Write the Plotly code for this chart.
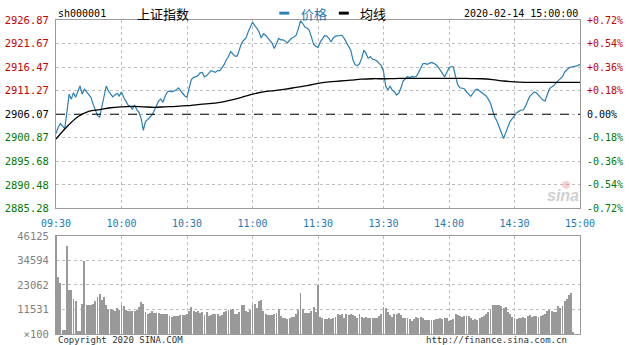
import plotly.graph_objects as go

# ---------------- data ----------------
symbol = "sh000001"
name = "上证指数"
stamp = "2020-02-14 15:00:00"
prev_close = 2906.07

price_ticks = [2885.28, 2890.48, 2895.68, 2900.87, 2906.07, 2911.27, 2916.47, 2921.67, 2926.87]
left_labels = ["2885.28", "2890.48", "2895.68", "2900.87", "2906.07", "2911.27", "2916.47", "2921.67", "2926.87"]
pct_labels = ["-0.72%", "-0.54%", "-0.36%", "-0.18%", "0.00%", "+0.18%", "+0.36%", "+0.54%", "+0.72%"]
vol_ticks = [0, 11531, 23062, 34594, 46125]
vol_labels = ["×100", "11531", "23062", "34594", "46125"]
time_ticks = ["09:30", "10:00", "10:30", "11:00", "11:30", "13:30", "14:00", "14:30", "15:00"]

# one value per minute: 09:30-11:30, 13:01-15:00
price = [
    2901.8, 2903.2, 2904.0, 2903.4, 2902.9, 2906.5, 2910.5, 2909.4, 2910.8, 2909.8,
    2911.2, 2912.3, 2910.5, 2911.6, 2911.0, 2910.5, 2909.8, 2908.3, 2906.9, 2905.8,
    2905.4, 2907.9, 2910.5, 2912.3, 2911.2, 2910.5, 2909.9, 2910.3, 2910.7, 2910.1,
    2911.0, 2909.8, 2908.8, 2908.1, 2907.8, 2907.2, 2908.1, 2907.1, 2906.5, 2905.1,
    2902.5, 2904.5, 2904.9, 2905.4, 2905.9, 2906.9, 2908.1, 2909.0, 2909.4, 2908.7,
    2910.1, 2911.0, 2911.2, 2911.0, 2911.2, 2911.4, 2911.9, 2911.2, 2910.7, 2910.1,
    2909.8, 2911.9, 2913.7, 2914.2, 2914.3, 2914.6, 2915.2, 2915.3, 2914.3, 2914.6,
    2915.2, 2915.7, 2915.5, 2915.3, 2915.7, 2915.7, 2916.3, 2917.0, 2918.1, 2918.8,
    2919.9, 2919.5, 2918.9, 2918.9, 2920.2, 2921.8, 2922.4, 2922.9, 2924.2, 2925.3,
    2926.4, 2925.6, 2925.1, 2924.2, 2922.9, 2923.8, 2923.5, 2922.9, 2922.2, 2921.7,
    2920.6, 2921.7, 2922.8, 2922.5, 2922.5, 2922.2, 2921.8, 2922.4, 2922.9, 2923.1,
    2923.5, 2924.9, 2926.7, 2926.1, 2925.3, 2925.1, 2924.6, 2923.1, 2921.5, 2921.1,
    2920.8,
    2922.0, 2922.8, 2923.4, 2923.3, 2922.8, 2922.0, 2922.9, 2923.3, 2923.4, 2923.4,
    2923.5, 2922.8, 2922.0, 2921.1, 2920.2, 2918.1, 2917.0, 2916.8, 2917.2, 2918.4,
    2920.2, 2919.5, 2918.4, 2918.8, 2918.2, 2918.1, 2917.8, 2917.3, 2916.8, 2915.5,
    2912.3, 2911.4, 2912.3, 2911.4, 2911.0, 2910.3, 2910.7, 2911.9, 2913.4, 2913.9,
    2914.4, 2914.1, 2914.4, 2914.3, 2914.4, 2915.2, 2916.3, 2917.2, 2917.3, 2917.1,
    2917.3, 2917.5, 2917.3, 2917.0, 2916.5, 2915.7, 2915.2, 2914.3, 2915.3, 2916.3,
    2916.6, 2916.5, 2914.4, 2912.6, 2911.9, 2911.8, 2911.7, 2911.0, 2910.5, 2910.0,
    2910.7, 2911.4, 2911.6, 2911.2, 2910.8, 2910.5, 2910.1, 2909.4, 2908.5, 2906.9,
    2905.4, 2904.5, 2903.3, 2902.2, 2900.7, 2902.0, 2903.3, 2904.5, 2905.1, 2905.8,
    2906.4, 2906.7, 2907.0, 2907.0, 2907.8, 2909.0, 2910.0, 2910.5, 2911.0, 2910.8,
    2910.3, 2909.8, 2909.2, 2909.0, 2910.3, 2911.7, 2912.1, 2912.4, 2913.0, 2913.4,
    2913.9, 2914.4, 2915.4, 2915.9, 2916.3, 2916.5, 2916.6, 2916.6, 2916.8, 2917.1,
]

avg_times = [
    "09:30", "09:35", "09:40", "09:45", "09:50", "09:55", "10:00", "10:05", "10:10", "10:15",
    "10:20", "10:25", "10:30", "10:35", "10:40", "10:45", "10:50", "10:55", "11:00", "11:05",
    "11:10", "11:15", "11:20", "11:25", "11:30",
    "13:05", "13:10", "13:15", "13:20", "13:25", "13:30", "13:35", "13:40", "13:45", "13:50",
    "13:55", "14:00", "14:05", "14:10", "14:15", "14:20", "14:25", "14:30", "14:35", "14:40",
    "14:45", "14:50", "14:55", "15:00",
]
avg_values = [
    2900.6, 2903.3, 2905.5, 2906.7, 2907.1, 2907.5, 2907.7, 2907.8, 2907.7, 2907.6,
    2907.7, 2907.8, 2907.95, 2908.2, 2908.4, 2908.7, 2909.2, 2909.8, 2910.5, 2911.0,
    2911.3, 2911.6, 2912.0, 2912.4, 2912.9,
    2913.2, 2913.4, 2913.6, 2913.8, 2913.9, 2913.9, 2913.95, 2914.0, 2914.0, 2914.0,
    2914.0, 2914.0, 2914.0, 2913.95, 2913.9, 2913.7, 2913.4, 2913.2, 2913.1, 2913.1,
    2913.1, 2913.1, 2913.1, 2913.1,
]

volume = [
    46125, 26900, 23800, 1850, 1850, 41200, 20750, 20750, 16600, 15700,
    1540, 1540, 14150, 34590, 13840, 13840, 13530, 14150, 15380, 17680,
    18760, 16140, 17680, 13840, 11990, 11990, 11530, 11070, 12300, 11530,
    13840, 13070, 11530, 11070, 11070, 11070, 11070, 11530, 12610, 15070,
    14150, 10460, 9530, 9990, 10760, 9990, 9990, 9990, 9230, 9230,
    9530, 9530, 8460, 8000, 8460, 8460, 8460, 8920, 8920, 8920,
    9230, 10760, 12610, 11070, 10460, 10760, 9990, 10460, 8920, 10460,
    8460, 8920, 9230, 9530, 9230, 8460, 8920, 10460, 11070, 11530,
    11530, 11990, 9530, 9230, 10460, 13840, 13840, 11070, 10460, 11530,
    13840, 14150, 12300, 15680, 16140, 11070, 9230, 8920, 8920, 8920,
    9230, 9990, 11990, 8460, 7690, 7380, 6920, 7690, 8000, 8000,
    9230, 11530, 19220, 11990, 9990, 9990, 9990, 10760, 12610, 10460,
    23060,
    8000, 7690, 7230, 7230, 7380, 6920, 7690, 8000, 9530, 8920,
    9230, 7380, 9230, 8920, 9230, 8920, 8460, 7380, 9530, 8000,
    7690, 8000, 7380, 7380, 7380, 7690, 7380, 8460, 9530, 12610,
    12300, 10460, 8920, 8000, 9230, 9530, 9990, 8920, 7690, 7380,
    7380, 6920, 6150, 6920, 8000, 7380, 8000, 7690, 6460, 6460,
    6460, 6460, 6460, 6920, 6920, 7380, 6920, 7690, 7380, 6150,
    6460, 6920, 9530, 8920, 8460, 8000, 8460, 8460, 8460, 7690,
    6460, 6920, 6460, 7380, 8000, 8460, 9530, 10460, 11530, 13840,
    13840, 13840, 13840, 13070, 12300, 12610, 10460, 9230, 8000, 7690,
    6920, 7380, 7690, 8000, 7380, 8460, 8920, 8000, 8460, 8460,
    8000, 8460, 8920, 9230, 11070, 11530, 11070, 10460, 10460, 13070,
    12300, 13070, 15380, 16610, 18450, 19220, 1230, 0, 0, 0,
]


# ---------------- axis helpers ----------------
def session(h0, m0, h1, m1):
    out = []
    t = h0 * 60 + m0
    while t <= h1 * 60 + m1:
        out.append(f"{t // 60:02d}:{t % 60:02d}")
        t += 1
    return out


times = session(9, 30, 11, 30) + session(13, 1, 15, 0)
xpos = list(range(len(times)))
tick_pos = [times.index(t) for t in time_ticks]
avg_x = [times.index(t) for t in avg_times]

RED, GREEN, BLACK = "#c80000", "#007a00", "#000000"
BLUE_LINE = "#2a7fb5"
BLUE_TXT = "#1f78b4"
MONO = "DejaVu Sans Mono"
CJK = "Noto Sans CJK SC"


def tint(label, val):
    c = RED if val > prev_close + 1e-6 else (GREEN if val < prev_close - 1e-6 else BLACK)
    return f"<span style='color:{c}'>{label}</span>"


W, H = 629, 345
L, R, T, B = 52, 49, 20, 5
PW, PH = W - L - R, H - T - B


def px(x):
    return (x - L) / PW


def py(y):
    return (H - B - y) / PH


fig = go.Figure()
fig.add_trace(go.Scatter(x=xpos, y=price, mode="lines",
                         line=dict(color=BLUE_LINE, width=1.2),
                         xaxis="x", yaxis="y", showlegend=False, hoverinfo="skip"))
fig.add_trace(go.Scatter(x=avg_x, y=avg_values, mode="lines",
                         line=dict(color="#000000", width=1.3, shape="spline"),
                         xaxis="x", yaxis="y", showlegend=False, hoverinfo="skip"))
# carrier trace so the right-hand percent axis gets drawn
fig.add_trace(go.Scatter(x=[xpos[0]], y=[prev_close], mode="markers",
                         marker=dict(opacity=0, size=1),
                         xaxis="x", yaxis="y2", showlegend=False, hoverinfo="skip"))
fig.add_trace(go.Bar(x=xpos, y=volume, width=0.42,
                     marker=dict(color="#999999", line=dict(width=0)),
                     xaxis="x2", yaxis="y3", showlegend=False, hoverinfo="skip"))

grid = dict(showgrid=True, gridcolor="#bdbdbd", griddash="dot", gridwidth=1)
frame = dict(showline=True, linecolor="#9a9a9a", linewidth=1, mirror=True)

fig.update_layout(
    width=W, height=H,
    margin=dict(l=L, r=R, t=T, b=B),
    paper_bgcolor="white", plot_bgcolor="white",
    bargap=0,
    xaxis=dict(domain=[0, 1], range=[0, len(times) - 1], tickvals=tick_pos, ticktext=time_ticks,
               tickfont=dict(family=MONO, size=10, color=BLUE_TXT),
               ticks="outside", ticklen=6, tickcolor="rgba(0,0,0,0)",
               zeroline=False, anchor="y", **grid, **frame),
    yaxis=dict(domain=[py(212), 1], range=[price_ticks[0], price_ticks[-1]],
               tickvals=price_ticks,
               ticktext=[tint(l, v) for l, v in zip(left_labels, price_ticks)],
               tickfont=dict(family=MONO, size=10.5),
               ticks="outside", ticklen=4, tickcolor="rgba(0,0,0,0)",
               zeroline=False, anchor="x", **grid, **frame),
    yaxis2=dict(overlaying="y", side="right", range=[price_ticks[0], price_ticks[-1]],
                tickvals=price_ticks,
                ticktext=[tint(l, v) for l, v in zip(pct_labels, price_ticks)],
                tickfont=dict(family=MONO, size=10),
                ticks="outside", ticklen=4, tickcolor="rgba(0,0,0,0)",
                showgrid=False, zeroline=False, showline=False, anchor="x"),
    xaxis2=dict(domain=[0, 1], range=[0, len(times) - 1], tickvals=tick_pos,
                showticklabels=False, zeroline=False, anchor="y3", **grid, **frame),
    yaxis3=dict(domain=[0, py(240)], range=[0, vol_ticks[-1]], tickvals=vol_ticks,
                ticktext=vol_labels,
                tickfont=dict(family=MONO, size=10.5, color="#808080"),
                ticks="outside", ticklen=4, tickcolor="rgba(0,0,0,0)",
                zeroline=False, anchor="x2", **grid, **frame),
)

# previous close dashed line
fig.add_shape(type="line", xref="paper", yref="y", x0=0, x1=1, y0=prev_close, y1=prev_close,
              line=dict(color="black", width=1, dash="dash"))

# header
ann = []
ann.append(dict(text=symbol, x=px(52), y=py(13), xanchor="left", yanchor="middle",
                font=dict(family=MONO, size=10, color="black")))
ann.append(dict(text=name, x=px(132), y=py(13), xanchor="left", yanchor="middle",
                font=dict(family=CJK, size=13, color="black")))
ann.append(dict(text="价格", x=px(297), y=py(13), xanchor="left", yanchor="middle",
                font=dict(family=CJK, size=13, color=BLUE_TXT)))
ann.append(dict(text="均线", x=px(356), y=py(13), xanchor="left", yanchor="middle",
                font=dict(family=CJK, size=13, color="black")))
ann.append(dict(text=stamp, x=px(580), y=py(13), xanchor="right", yanchor="middle",
                font=dict(family=MONO, size=10, color="black")))
# watermark
ann.append(dict(text="<b><i>sina</i></b>", x=px(563), y=py(199), xanchor="center", yanchor="middle",
                font=dict(family="Liberation Sans", size=16, color="#cfcfcf")))
# footer, just below the volume panel
ann.append(dict(text="Copyright 2020 SINA.COM", x=px(52), y=py(339), xanchor="left", yanchor="top",
                font=dict(family=MONO, size=9, color="#333333")))
ann.append(dict(text="http://finance.sina.com.cn", x=px(423), y=py(339), xanchor="left", yanchor="top",
                font=dict(family=MONO, size=9, color="#333333")))
for a in ann:
    a.update(xref="paper", yref="paper", showarrow=False)
fig.update_layout(annotations=ann)

# legend swatches
fig.add_shape(type="rect", xref="paper", yref="paper", x0=px(277), x1=px(287), y0=py(14.5), y1=py(11.5),
              fillcolor=BLUE_LINE, line=dict(width=0))
fig.add_shape(type="rect", xref="paper", yref="paper", x0=px(337), x1=px(347), y0=py(14.5), y1=py(11.5),
              fillcolor="black", line=dict(width=0))
# faint logo dot for the watermark
fig.add_shape(type="circle", xref="paper", yref="paper", x0=px(562), x1=px(570), y0=py(192), y1=py(184),
              fillcolor="rgba(230,120,120,0.35)", line=dict(width=0))

fig.write_html("out.html")
